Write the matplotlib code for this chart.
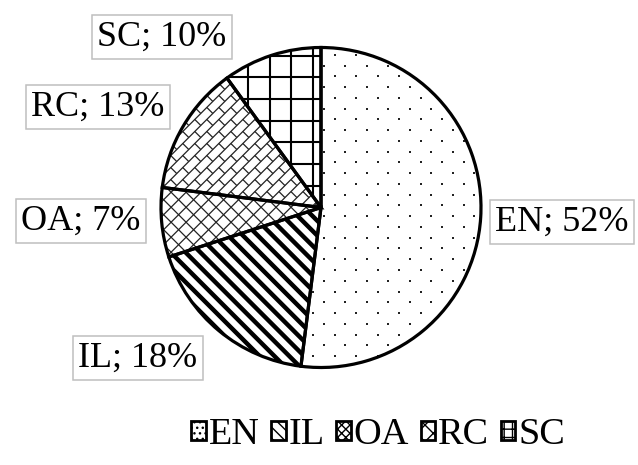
import numpy as np
import matplotlib
matplotlib.use("Agg")
import matplotlib.pyplot as plt
from matplotlib.collections import LineCollection
from matplotlib.patches import Patch, Wedge

plt.rcParams["font.family"] = ["Liberation Serif", "DejaVu Serif"]

# ---- data ----
categories = ["EN", "IL", "OA", "RC", "SC"]
shares = [52, 18, 7, 13, 10]

# ---- layout (pixel units, y up) ----
W, H = 638, 465
CX, CY, R = 321, H - 207.5, 160
LABEL_POS = [(562, H - 222), (138, H - 358), (81, H - 221), (98, H - 107), (162, H - 37)]


def line_grid(angle_deg, spacing, offset=0.0):
    """Parallel lines over the pie bounding box, direction angle_deg, perpendicular spacing."""
    a = np.deg2rad(angle_deg)
    d = np.array([np.cos(a), np.sin(a)])
    n = np.array([-d[1], d[0]])
    L = 2 * R + 40
    segs = []
    for k in np.arange(-L / 2 + offset, L / 2, spacing):
        p = np.array([CX, CY]) + n * k
        segs.append([p - d * L / 2, p + d * L / 2])
    return segs


def bricks(spacing, length):
    a = np.deg2rad(45)
    d = np.array([np.cos(a), np.sin(a)])
    n = np.array([-d[1], d[0]])
    c = np.array([CX, CY])
    L = 2 * R + 40
    segs = []
    for i, k in enumerate(np.arange(-L / 2, L / 2, spacing)):
        p = c + n * k
        segs.append([p - d * L / 2, p + d * L / 2])
        for u in np.arange(-L / 2 + (i % 2) * length / 2, L / 2, length):
            q = c + d * u + n * k
            segs.append([q, q + n * spacing])
    return segs


fig = plt.figure(figsize=(W / 100, H / 100), dpi=100)
ax = fig.add_axes([0, 0, 1, 1])
wedges, _ = ax.pie(shares, startangle=90, counterclock=False, center=(CX, CY), radius=R,
                   frame=True, wedgeprops=dict(facecolor="none", edgecolor="black",
                                               linewidth=2.3, zorder=4))
ax.set_xlim(0, W)
ax.set_ylim(0, H)
ax.set_aspect("equal")
ax.axis("off")
for w in wedges:
    ax.add_patch(Wedge(w.center, w.r, w.theta1, w.theta2, facecolor="white",
                       edgecolor="none", zorder=1))

# EN: sparse staggered dots
xs, ys = [], []
for j, y in enumerate(np.arange(CY - R - 10, CY + R + 10, 10.75)):
    for x in np.arange(CX - R - 20 + (j % 2) * 10.75, CX + R + 20, 21.5):
        xs.append(x); ys.append(y)
dots = ax.scatter(xs, ys, s=3.2, marker="s", color="#222222", linewidths=0, zorder=3)
dots.set_clip_path(wedges[0])

# IL: thick back-slash stripes
il = LineCollection(line_grid(-45, 10.5), colors="black", linewidths=3.2, zorder=3)
ax.add_collection(il); il.set_clip_path(wedges[1])

# OA: fine diamond cross-hatch
oa = LineCollection(line_grid(45, 10.6) + line_grid(-45, 10.6), colors="#222222",
                    linewidths=0.9, zorder=3)
ax.add_collection(oa); oa.set_clip_path(wedges[2])

# RC: diagonal brick
rc = LineCollection(bricks(8.5, 17), colors="#222222", linewidths=0.9, zorder=3)
ax.add_collection(rc); rc.set_clip_path(wedges[3])

# SC: square grid
sc = LineCollection(line_grid(0, 21.7, 6.4) + line_grid(90, 21.7, 14.3), colors="black",
                    linewidths=1.5, zorder=3)
ax.add_collection(sc); sc.set_clip_path(wedges[4])

for cat, val, (lx, ly) in zip(categories, shares, LABEL_POS):
    ax.text(lx, ly, f"{cat}; {val}%", fontsize=26, ha="center", va="center", zorder=5,
            bbox=dict(boxstyle="square,pad=0.15", facecolor="white", edgecolor="#bfbfbf",
                      linewidth=1.1))

hatches = ["...", "\\\\\\", "xxxx", "xx", "++"]
handles = [Patch(facecolor="white", edgecolor="black", hatch=h, linewidth=2.0) for h in hatches]
ax.legend(handles, categories, loc="center", bbox_to_anchor=(378 / W, 30 / H), ncol=5,
          frameon=False, fontsize=27.5, handlelength=0.38, handleheight=0.38,
          handletextpad=0.08, columnspacing=0.3, borderaxespad=0)

fig.savefig("out.png", dpi=100)
